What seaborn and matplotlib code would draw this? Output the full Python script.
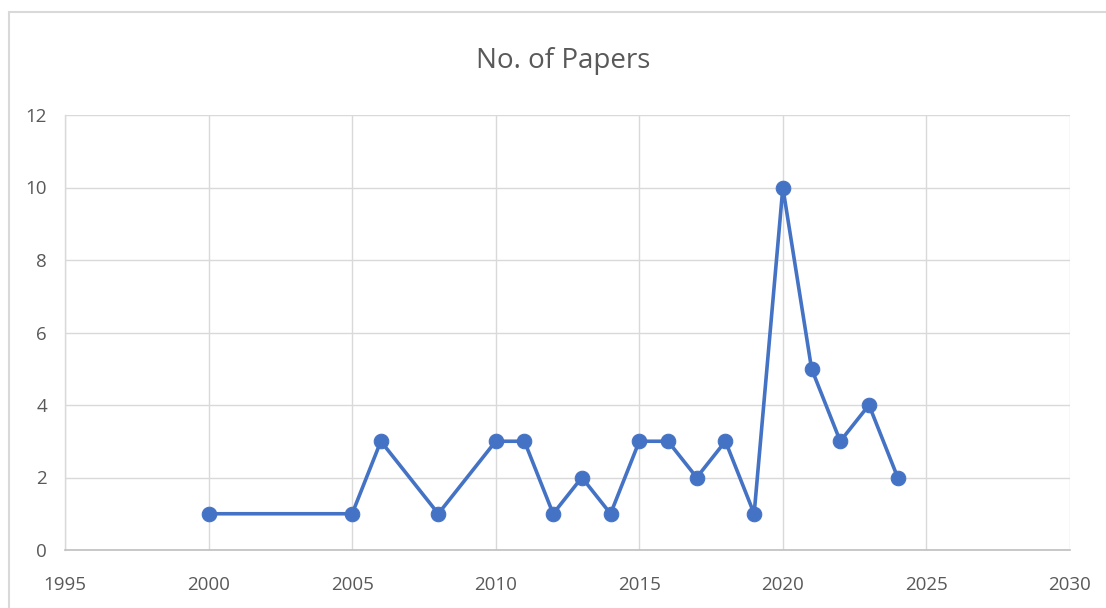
import matplotlib
matplotlib.use("Agg")
import matplotlib.pyplot as plt
import seaborn as sns
import pandas as pd
from matplotlib.patches import Rectangle

years = [2000, 2005, 2006, 2008, 2010, 2011, 2012, 2013, 2014, 2015, 2016, 2017, 2018, 2019, 2020, 2021, 2022, 2023, 2024]
papers = [1, 1, 3, 1, 3, 3, 1, 2, 1, 3, 3, 2, 3, 1, 10, 5, 3, 4, 2]
x_ticks = [1995, 2000, 2005, 2010, 2015, 2020, 2025, 2030]
y_ticks = [0, 2, 4, 6, 8, 10, 12]
title = "No. of Papers"

sns.set_theme(style="white")
plt.rcParams['font.family'] = ['Open Sans', 'DejaVu Sans']

df = pd.DataFrame({"Year": years, "Papers": papers})

fig = plt.figure(figsize=(11.06, 6.08), dpi=100)
ax = fig.add_axes([65/1106, 1-550/608, (1070-65)/1106, (550-115)/608])

text_color = "#595959"
grid_color = "#d9d9d9"

sns.lineplot(data=df, x="Year", y="Papers", ax=ax, color="#4472C4", linewidth=2.6,
             marker="o", markersize=10.5, markeredgecolor="#4472C4", markerfacecolor="#4472C4")

ax.set_xlim(x_ticks[0], x_ticks[-1])
ax.set_ylim(y_ticks[0], y_ticks[-1])
ax.set_xticks(x_ticks)
ax.set_yticks(y_ticks)
ax.set_xticklabels([str(t) for t in x_ticks])
ax.set_yticklabels([str(t) for t in y_ticks])
ax.grid(True, color=grid_color, linewidth=1)
ax.set_axisbelow(True)
for s in ["top", "right"]:
    ax.spines[s].set_visible(False)
ax.spines["left"].set_color(grid_color)
ax.spines["left"].set_linewidth(1)
ax.spines["bottom"].set_color("#bfbfbf")
ax.spines["bottom"].set_linewidth(1.2)
ax.tick_params(axis="both", length=0, labelsize=13.5, labelcolor=text_color)
ax.tick_params(axis="x", pad=19)
ax.tick_params(axis="y", pad=13)
ax.set_xlabel("")
ax.set_ylabel("")

fig.text(563/1106, 1-61/608, title, ha="center", va="center", fontsize=20, color=text_color)

border = Rectangle((9/1106, -0.05), 1.2, 1-12/608+0.05, transform=fig.transFigure,
                   fill=False, edgecolor=grid_color, linewidth=1.5)
fig.patches.append(border)

fig.savefig("out.png", dpi=100, facecolor="white")
